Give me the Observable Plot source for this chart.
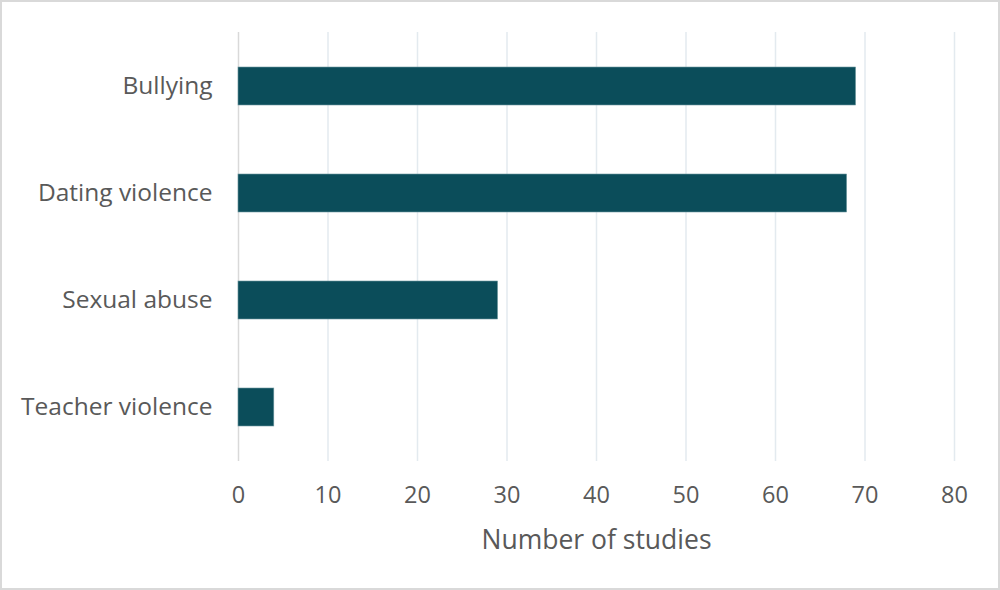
<!DOCTYPE html>
<html>
<head>
<meta charset="utf-8">
<script src="https://cdn.jsdelivr.net/npm/d3@7"></script>
<script src="https://cdn.jsdelivr.net/npm/@observablehq/plot@0.6"></script>
<style>
  html, body { margin: 0; padding: 0; background: #fff; }
  #chart { width: 1000px; height: 590px; box-sizing: border-box; border: 2px solid #d9d9d9; position: relative; overflow: hidden; }
  #chart svg { position: absolute; left: -2px; top: -2px; max-width: none !important; }
</style>
</head>
<body>
<div id="chart"></div>
<script>
const categories = ["Bullying", "Dating violence", "Sexual abuse", "Teacher violence"];
const studies = [69, 68, 29, 4];
const xTicks = [0, 10, 20, 30, 40, 50, 60, 70, 80];
const xLabel = "Number of studies";

const data = categories.map((c, i) => ({category: c, value: studies[i]}));

const chart = Plot.plot({
  width: 1000,
  height: 590,
  marginLeft: 238,
  marginRight: 46,
  marginTop: 32,
  marginBottom: 129,
  style: {fontFamily: "'Open Sans', sans-serif", color: "#595959", background: "transparent", maxWidth: "none"},
  x: {domain: [0, 80], ticks: xTicks},
  y: {domain: categories, paddingInner: 0.645, paddingOuter: 0.3225},
  marks: [
    Plot.ruleX(xTicks.filter(d => d > 0), {stroke: "#e3eaef", strokeWidth: 1.5}),
    Plot.ruleX([0], {stroke: "#d9d9d9", strokeWidth: 1.5}),
    Plot.barX(data, {x: "value", y: "category", fill: "#0b4d5a", stroke: "#6f98a0", strokeWidth: 0.6}),
    Plot.axisX({ticks: xTicks, tickSize: 0, tickPadding: 25, fontSize: 23.5, label: xLabel, labelAnchor: "center", labelArrow: "none", labelOffset: 87}),
    Plot.axisY({tickSize: 0, tickPadding: 26, fontSize: 24.5, label: null})
  ]
});
chart.querySelectorAll("[aria-label='x-axis label'] text").forEach(t => t.setAttribute("font-size", 26.5));
document.getElementById("chart").appendChild(chart);
</script>
</body>
</html>
